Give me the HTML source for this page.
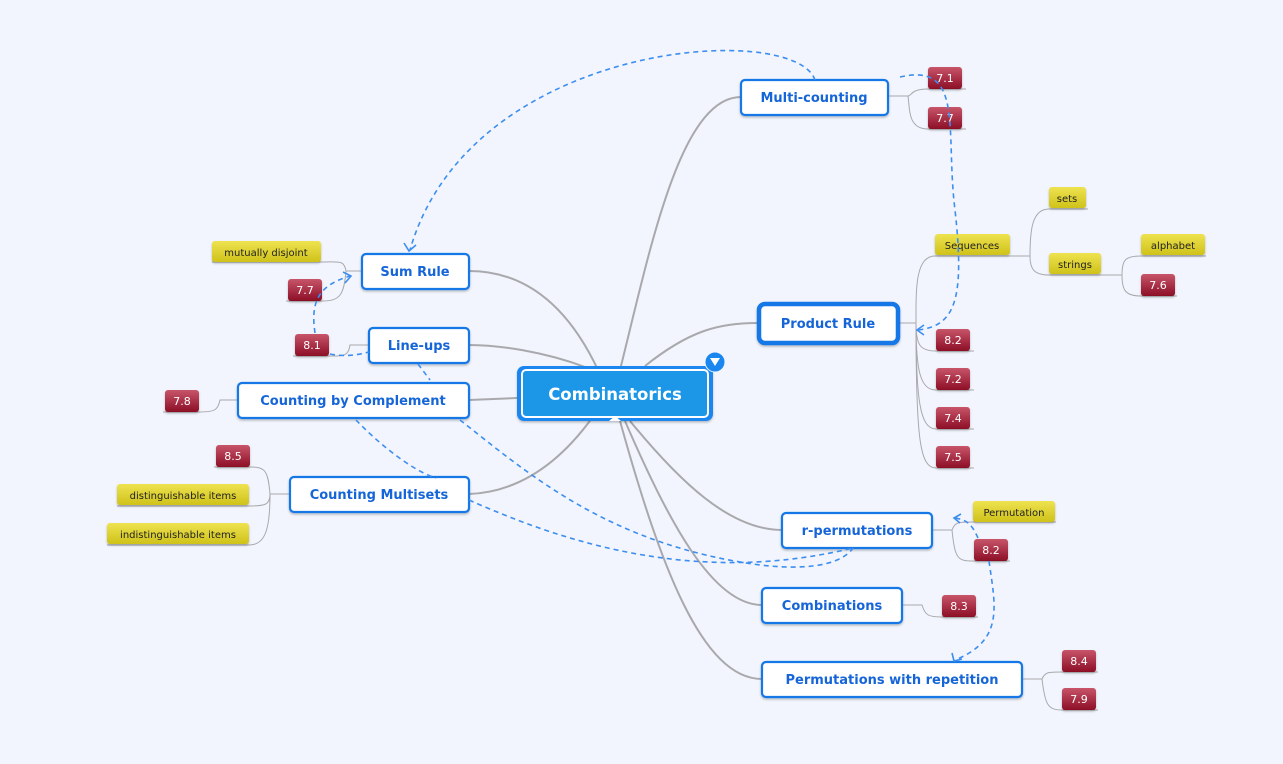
<!DOCTYPE html>
<html><head><meta charset="utf-8"><style>
html,body{margin:0;padding:0;background:#f2f5fd;}
svg{display:block;font-family:"DejaVu Sans","Liberation Sans",sans-serif;}
.n{fill:#fff;stroke:#1577e6;stroke-width:2.2;}
.nt{fill:#1565d8;font-weight:bold;font-size:13px;text-anchor:middle;}
.m{fill:none;stroke:#a9a9ad;stroke-width:2;}
.s{fill:none;stroke:#a9a9ad;stroke-width:1;}
.d{fill:none;stroke:#3d8ef0;stroke-width:1.6;stroke-dasharray:5,4;}
.a{fill:none;stroke:#3d8ef0;stroke-width:1.6;}
.rt{fill:#fff;font-size:11px;text-anchor:middle;}
.yt{fill:#222;font-size:10px;text-anchor:middle;}
</style></head><body>
<svg width="1283" height="764" viewBox="0 0 1283 764">
<defs>
<linearGradient id="r" x1="0" y1="0" x2="0" y2="1"><stop offset="0" stop-color="#c8556a"/><stop offset="1" stop-color="#8c0f26"/></linearGradient>
<linearGradient id="y" x1="0" y1="0" x2="0" y2="1"><stop offset="0" stop-color="#eee250"/><stop offset="1" stop-color="#cfc21a"/></linearGradient>
<filter id="sh" x="-10%" y="-10%" width="120%" height="140%"><feDropShadow dx="0" dy="1.5" stdDeviation="1" flood-color="#000" flood-opacity="0.25"/></filter>
</defs>
<path class="m" d="M620 370 C650 250 680 97 741 97"/>
<path class="m" d="M598 370 C565 300 520 271 469 271"/>
<path class="m" d="M585 367 C545 352 500 345 469 345"/>
<path class="m" d="M517 398 L469 400"/>
<path class="m" d="M592 418 C560 462 520 492 469 494"/>
<path class="m" d="M645 366 C690 330 720 323 757 323"/>
<path class="m" d="M630 421 C680 482 730 530 782 530"/>
<path class="m" d="M625 421 C668 520 712 605 762 605"/>
<path class="m" d="M620 421 C660 565 702 679 762 679"/>
<path class="s" d="M888 96 H908 C912 96 910 89 928 89 H966"/>
<path class="s" d="M908 96 C910 110 908 129 928 129 H966"/>
<path class="s" d="M900 323 H916 C916 290 915 256 935 256 H1010"/>
<path class="s" d="M916 323 C916 345 920 351 936 351 H974"/>
<path class="s" d="M916 323 C916 370 920 390 936 390 H974"/>
<path class="s" d="M916 323 C916 400 920 429 936 429 H974"/>
<path class="s" d="M916 323 C916 440 920 468 936 468 H974"/>
<path class="s" d="M1010 256 H1030 C1030 230 1032 209 1049 209 H1088"/>
<path class="s" d="M1030 256 C1030 270 1035 275 1049 275 H1122"/>
<path class="s" d="M1122 275 C1122 260 1125 256 1141 256 H1206"/>
<path class="s" d="M1122 275 C1122 290 1125 296 1141 296 H1177"/>
<path class="s" d="M362 271 H346 C344 260 340 262 322 262 H212"/>
<path class="s" d="M346 271 C344 295 340 301 322 301 H286"/>
<path class="s" d="M369 345 H350 C348 356 345 356 329 356 H293"/>
<path class="s" d="M238 400 H220 C218 410 215 412 199 412 H163"/>
<path class="s" d="M290 494 H270 C268 470 265 467 250 467 H214"/>
<path class="s" d="M270 494 C270 505 265 506 249 506 H117"/>
<path class="s" d="M270 494 C270 530 265 545 249 545 H107"/>
<path class="s" d="M932 530 H952 C955 522 958 522 973 522 H1056"/>
<path class="s" d="M952 530 C955 560 958 561 974 561 H1010"/>
<path class="s" d="M902 605 H922 C925 615 928 617 942 617 H978"/>
<path class="s" d="M1022 679 H1042 C1045 672 1048 672 1062 672 H1098"/>
<path class="s" d="M1042 679 C1045 705 1048 710 1062 710 H1098"/>
<g filter="url(#sh)">
<rect x="928" y="67" width="34" height="22" rx="3" fill="url(#r)"/>
<rect x="928" y="107" width="34" height="22" rx="3" fill="url(#r)"/>
<rect x="936" y="329" width="34" height="22" rx="3" fill="url(#r)"/>
<rect x="936" y="368" width="34" height="22" rx="3" fill="url(#r)"/>
<rect x="936" y="407" width="34" height="22" rx="3" fill="url(#r)"/>
<rect x="936" y="446" width="34" height="22" rx="3" fill="url(#r)"/>
<rect x="1141" y="274" width="34" height="22" rx="3" fill="url(#r)"/>
<rect x="974" y="539" width="34" height="22" rx="3" fill="url(#r)"/>
<rect x="942" y="595" width="34" height="22" rx="3" fill="url(#r)"/>
<rect x="1062" y="650" width="34" height="22" rx="3" fill="url(#r)"/>
<rect x="1062" y="688" width="34" height="22" rx="3" fill="url(#r)"/>
<rect x="288" y="279" width="34" height="22" rx="3" fill="url(#r)"/>
<rect x="295" y="334" width="34" height="22" rx="3" fill="url(#r)"/>
<rect x="165" y="390" width="34" height="22" rx="3" fill="url(#r)"/>
<rect x="216" y="445" width="34" height="22" rx="3" fill="url(#r)"/>
<rect x="935" y="234" width="75" height="21" rx="3" fill="url(#y)"/>
<rect x="1049" y="187" width="37" height="21" rx="3" fill="url(#y)"/>
<rect x="1049" y="253" width="52" height="21" rx="3" fill="url(#y)"/>
<rect x="1141" y="234" width="64" height="21" rx="3" fill="url(#y)"/>
<rect x="973" y="501" width="82" height="21" rx="3" fill="url(#y)"/>
<rect x="212" y="241" width="109" height="21" rx="3" fill="url(#y)"/>
<rect x="117" y="484" width="132" height="21" rx="3" fill="url(#y)"/>
<rect x="107" y="523" width="142" height="21" rx="3" fill="url(#y)"/>
</g>
<g class="rt">
<text x="945" y="82">7.1</text><text x="945" y="122">7.7</text>
<text x="953" y="344">8.2</text><text x="953" y="383">7.2</text><text x="953" y="422">7.4</text><text x="953" y="461">7.5</text>
<text x="1158" y="289">7.6</text><text x="991" y="554">8.2</text><text x="959" y="610">8.3</text>
<text x="1079" y="665">8.4</text><text x="1079" y="703">7.9</text>
<text x="305" y="294">7.7</text><text x="312" y="349">8.1</text><text x="182" y="405">7.8</text><text x="233" y="460">8.5</text>
</g>
<g class="yt">
<text x="972" y="249">Sequences</text><text x="1067" y="202">sets</text><text x="1075" y="268">strings</text>
<text x="1173" y="249">alphabet</text><text x="1014" y="516">Permutation</text>
<text x="266" y="256">mutually disjoint</text><text x="183" y="499">distinguishable items</text><text x="178" y="538">indistinguishable items</text>
</g>
<g filter="url(#sh)">
<rect class="n" x="741" y="80" width="147" height="35" rx="4"/>
<rect class="n" x="362" y="254" width="107" height="35" rx="4"/>
<rect class="n" x="369" y="328" width="100" height="35" rx="4"/>
<rect class="n" x="238" y="383" width="231" height="35" rx="4"/>
<rect class="n" x="290" y="477" width="179" height="35" rx="4"/>
<rect class="n" x="759" y="304" width="139" height="39" rx="6" style="stroke-width:4.5"/>
<rect class="n" x="782" y="513" width="150" height="35" rx="4"/>
<rect class="n" x="762" y="588" width="140" height="35" rx="4"/>
<rect class="n" x="762" y="662" width="260" height="35" rx="4"/>
<rect x="517" y="366" width="196" height="55" rx="7" fill="#1a86f0"/>
<rect x="522" y="370" width="186" height="47" rx="4" fill="#1d96e6" stroke="#fff" stroke-width="2"/>
</g>
<path d="M609 421 L615 416 L621 421 Z" fill="#fff"/>
<circle cx="715" cy="362" r="10" fill="#1a86f0" stroke="#f2f5fd" stroke-width="1"/>
<path d="M710 358 L720 358 L715 366 Z" fill="#fff"/>
<text x="615" y="400" style="fill:#fff;font-weight:bold;font-size:16.5px;text-anchor:middle">Combinatorics</text>
<g class="nt">
<text x="814" y="102">Multi-counting</text>
<text x="415" y="276">Sum Rule</text>
<text x="419" y="350">Line-ups</text>
<text x="353" y="405">Counting by Complement</text>
<text x="379" y="499">Counting Multisets</text>
<text x="828" y="328">Product Rule</text>
<text x="857" y="535">r-permutations</text>
<text x="832" y="610">Combinations</text>
<text x="892" y="684">Permutations with repetition</text>
</g>
<path class="d" d="M815 80 C795 20 470 40 410 250"/>
<path class="a" d="M404 243 L409 251 L416 245"/>
<path class="d" d="M900 77 C965 62 945 130 955 210 C965 300 955 326 918 330"/>
<path class="a" d="M924 325 L917 330 L924 335"/>
<path class="d" d="M315 333 C310 300 320 285 350 276"/>
<path class="a" d="M343 272 L351 276 L345 283"/>
<path class="d" d="M330 354 C345 357 358 355 369 352"/>
<path class="d" d="M418 364 L430 380"/>
<path class="d" d="M356 420 C375 440 410 470 436 478"/>
<path class="d" d="M460 420 C530 475 610 545 760 565 C820 572 845 560 853 548"/>
<path class="d" d="M469 500 C570 545 700 585 853 548"/>
<path class="d" d="M978 538 C972 525 968 520 955 518"/>
<path class="a" d="M961 514 L954 518 L960 523"/>
<path class="d" d="M989 561 C995 605 1005 640 955 660"/>
<path class="a" d="M952 653 L954 661 L962 659"/>
</svg>
</body></html>
